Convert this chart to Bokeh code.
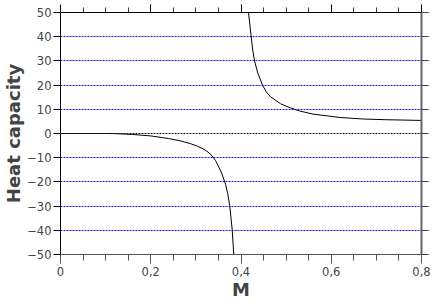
from bokeh.plotting import figure
from bokeh.models import Range1d, LinearAxis, FixedTicker, Span
from bokeh.embed import file_html
from bokeh.resources import INLINE

# Data
m_low = [0.0, 0.05, 0.10, 0.12, 0.16, 0.20, 0.24, 0.265, 0.288, 0.303, 0.3176, 0.327, 0.336, 0.3435, 0.3508, 0.358, 0.3657, 0.3705, 0.375, 0.3804, 0.384]
c_low = [0.0, 0.0, 0.0, -0.05, -0.4, -1.0, -2.1, -3.0, -4.2, -5.2, -6.5, -7.7, -9.2, -11.2, -13.8, -16.8, -21.0, -24.8, -29.8, -39.5, -50.0]
m_high = [0.4166, 0.4226, 0.426, 0.430, 0.4372, 0.4476, 0.456, 0.4654, 0.4875, 0.509, 0.53, 0.56, 0.62, 0.67, 0.72, 0.80]
c_high = [50.0, 40.0, 34.5, 30.0, 25.0, 20.0, 17.2, 15.2, 12.3, 10.6, 9.3, 8.0, 6.6, 6.0, 5.7, 5.4]

x_ticks = [0.0, 0.2, 0.4, 0.6, 0.8]
x_tick_labels = ["0", "0,2", "0,4", "0,6", "0,8"]
x_minor = [0.05, 0.1, 0.15, 0.25, 0.3, 0.35, 0.45, 0.5, 0.55, 0.65, 0.7, 0.75]
y_ticks = [-50, -40, -30, -20, -10, 0, 10, 20, 30, 40, 50]
grid_ticks = [-40, -30, -20, -10, 10, 20, 30, 40]

FONT = "DejaVu Sans"

p = figure(frame_width=361, frame_height=242, output_backend="svg", toolbar_location=None,
           x_range=Range1d(0, 0.8), y_range=Range1d(-50, 50),
           min_border_left=50, min_border_top=12, min_border_right=8, min_border_bottom=0,
           x_axis_label="M", y_axis_label="Heat capacity")
p.outline_line_color = None
p.background_fill_color = "white"

p.xgrid.visible = False
p.ygrid.ticker = FixedTicker(ticks=grid_ticks)
p.ygrid.grid_line_color = "#0000ff"
p.ygrid.grid_line_alpha = 0.9
p.ygrid.grid_line_dash = "2 1"
p.ygrid.grid_line_width = 1
p.add_layout(Span(location=0, dimension="width", line_color="#111133", line_dash="2 1", line_width=1))

xa = p.xaxis[0]
xa.ticker = FixedTicker(ticks=x_ticks, minor_ticks=x_minor)
xa.major_label_overrides = {t: l for t, l in zip(x_ticks, x_tick_labels)}
xa.major_tick_in = 0
xa.major_tick_out = 9
xa.minor_tick_in = 0
xa.minor_tick_out = 6
xa.axis_line_color = "#555555"
xa.major_tick_line_color = "#555555"
xa.minor_tick_line_color = "#555555"
xa.major_label_text_font = FONT
xa.major_label_text_font_size = "11.5px"
xa.major_label_standoff = 3
xa.axis_label_text_font = FONT
xa.axis_label_text_font_style = "bold"
xa.axis_label_text_font_size = "18px"
xa.axis_label_standoff = 0

ya = p.yaxis[0]
ya.ticker = FixedTicker(ticks=y_ticks)
ya.major_tick_in = 0
ya.major_tick_out = 7
ya.minor_tick_line_color = None
ya.axis_line_color = "black"
ya.major_tick_line_color = "black"
ya.major_label_text_font = FONT
ya.major_label_text_font_size = "11.5px"
ya.major_label_standoff = 2
ya.axis_label_text_font = FONT
ya.axis_label_text_font_style = "bold"
ya.axis_label_text_font_size = "18px"
ya.axis_label_standoff = 0

top = LinearAxis(ticker=FixedTicker(ticks=x_ticks, minor_ticks=x_minor),
                 major_label_text_font_size="1px", major_label_standoff=0,
                 major_tick_in=0, major_tick_out=8, minor_tick_in=0, minor_tick_out=5,
                 axis_line_color="black", major_tick_line_color="black", minor_tick_line_color="#333333",
                 major_tick_line_width=1, minor_tick_line_width=1)
p.add_layout(top, "above")

right = LinearAxis(ticker=FixedTicker(ticks=y_ticks),
                   major_label_text_font_size="1px", major_label_standoff=0,
                   major_tick_in=0, major_tick_out=7, minor_tick_line_color=None,
                   axis_line_color="#666666", axis_line_width=2, major_tick_line_color="#444444",
                   major_tick_line_width=1)
p.add_layout(right, "right")

p.line(m_low, c_low, line_color="black", line_width=1)
p.line(m_high, c_high, line_color="black", line_width=1)

open("out.html", "w").write(file_html(p, INLINE))
